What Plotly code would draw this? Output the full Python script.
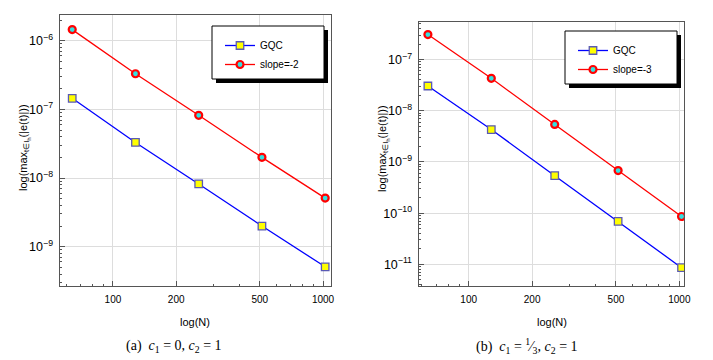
import plotly.graph_objects as go
from plotly.subplots import make_subplots

# data
n_values = [64, 128, 256, 512, 1024]

gqc_a = [1.45e-7, 3.3e-8, 8.2e-9, 2.0e-9, 5.1e-10]
slope_a = [1.45e-6, 3.3e-7, 8.2e-8, 2.0e-8, 5.1e-9]

gqc_b = [3.05e-8, 4.3e-9, 5.4e-10, 6.9e-11, 8.6e-12]
slope_b = [3.08e-7, 4.3e-8, 5.4e-9, 6.8e-10, 8.6e-11]

x_ticks = [100, 200, 500, 1000]
x_tick_text = ["100", "200", "500", "1000"]

W, H = 713, 360
SANS = "Liberation Sans, Arial, sans-serif"
SERIF = "Liberation Serif, Times New Roman, serif"


def px(x):
    return x / W


def py(y):
    return 1 - y / H


fig = make_subplots(rows=1, cols=2)

gqc_style = dict(
    mode="lines+markers",
    line=dict(color="#0000ff", width=1.3),
    marker=dict(symbol="square", size=7.5, color="#ffff00",
                line=dict(color="#5a5ab4", width=1.3)),
)
slope_style = dict(
    mode="lines+markers",
    line=dict(color="#ff0000", width=1.3),
    marker=dict(symbol="circle", size=7, color="#33e0e0",
                line=dict(color="#ff0000", width=2.2)),
)

fig.add_trace(go.Scatter(x=n_values, y=gqc_a, name="GQC", legend="legend", **gqc_style), 1, 1)
fig.add_trace(go.Scatter(x=n_values, y=slope_a, name="slope=-2", legend="legend", **slope_style), 1, 1)
fig.add_trace(go.Scatter(x=n_values, y=gqc_b, name="GQC", legend="legend2", **gqc_style), 1, 2)
fig.add_trace(go.Scatter(x=n_values, y=slope_b, name="slope=-3", legend="legend2", **slope_style), 1, 2)

panels = [
    # frame (px): left, right, top, bottom ; log ranges ; caption centre
    dict(l=60, r=331, t=15, b=286, xr=[1.748, 3.038], yr=[-9.572, -5.626], cap=174),
    dict(l=419, r=684, t=22, b=286, xr=[1.764, 3.022], yr=[-11.423, -6.266], cap=527),
]
captions = [
    "(a)  <i>c</i><sub>1</sub> = 0, <i>c</i><sub>2</sub> = 1",
    "(b)  <i>c</i><sub>1</sub> = <sup>1</sup>⁄<sub>3</sub>, <i>c</i><sub>2</sub> = 1",
]

axis_common = dict(
    type="log", automargin=False,
    showline=True, linecolor="#555555", linewidth=1, mirror=True,
    ticks="inside", ticklen=5, tickcolor="#555555",
    showgrid=True, gridcolor="#dddddd", gridwidth=1,
    zeroline=False,
    tickfont=dict(family=SANS, size=10, color="#000000"),
    minor=dict(ticks="inside", ticklen=2, tickcolor="#555555", showgrid=False, dtick="D1"),
)

for i, p in enumerate(panels, start=1):
    fig.update_xaxes(
        domain=[px(p["l"]), px(p["r"])], range=p["xr"],
        tickvals=x_ticks, ticktext=x_tick_text, ticklabelstandoff=4,
        row=1, col=i, **axis_common,
    )
    fig.update_yaxes(
        domain=[py(p["b"]), py(p["t"])], range=p["yr"],
        dtick=1, exponentformat="power", ticklabelstandoff=4,
        row=1, col=i, **axis_common,
    )

# axis titles and captions
annotations = []
for p, cap in zip(panels, captions):
    cx = (p["l"] + p["r"]) / 2
    annotations.append(dict(
        x=px(cx), y=py(322), xref="paper", yref="paper", showarrow=False,
        xanchor="center", yanchor="middle",
        text="log(N)", font=dict(family=SANS, size=11, color="#000000"),
    ))
    annotations.append(dict(
        x=px(p["l"] - 36), y=py(148), xref="paper", yref="paper", showarrow=False,
        xanchor="center", yanchor="middle", textangle=-90,
        text="log(max<sub>t∈I<sub>h</sub></sub>(|e(t)|))",
        font=dict(family=SANS, size=11, color="#000000"),
    ))
    annotations.append(dict(
        x=px(p["cap"]), y=py(346), xref="paper", yref="paper", showarrow=False,
        xanchor="center", yanchor="middle",
        text=cap, font=dict(family=SERIF, size=14, color="#000000"),
    ))

# legend boxes with drop shadow
shapes = []
boxes = [(212, 324, 26, 79), (565, 677, 31, 84)]
for (x0, x1, y0, y1) in boxes:
    shapes.append(dict(type="rect", xref="paper", yref="paper", layer="above",
                       x0=px(x0 + 4), x1=px(x1 + 4), y0=py(y1 + 4), y1=py(y0 + 4),
                       fillcolor="#000000", line=dict(width=0)))
    shapes.append(dict(type="rect", xref="paper", yref="paper", layer="above",
                       x0=px(x0), x1=px(x1), y0=py(y1), y1=py(y0),
                       fillcolor="#ffffff", line=dict(color="#000000", width=1)))

legend_common = dict(
    bgcolor="rgba(0,0,0,0)", borderwidth=0,
    font=dict(family=SANS, size=10, color="#000000"),
    xanchor="left", yanchor="top", tracegroupgap=0, itemwidth=30,
)

fig.update_layout(
    width=W, height=H,
    margin=dict(l=0, r=0, t=0, b=0),
    paper_bgcolor="#ffffff", plot_bgcolor="#ffffff",
    annotations=annotations,
    shapes=shapes,
    showlegend=True,
    legend=dict(x=px(220), y=py(31), **legend_common),
    legend2=dict(x=px(573), y=py(36), **legend_common),
)

# the page body has a default margin; drop it so the figure fills the window
fig.write_html("out.html", config={"displayModeBar": False},
               post_script="document.body.style.margin='0px';")
